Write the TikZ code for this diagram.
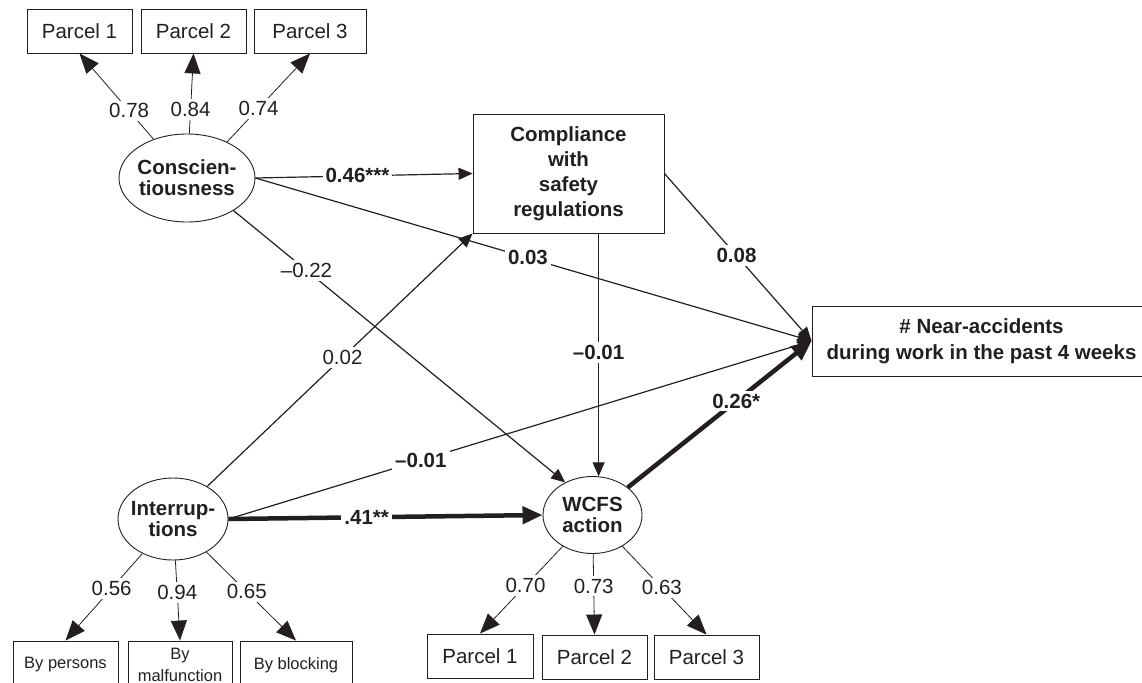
\documentclass[tikz,border=0pt]{standalone}
\usepackage{fontspec}
\setmainfont{Liberation Sans}
\usetikzlibrary{arrows.meta,shapes.geometric}
\definecolor{ink}{HTML}{231F20}
\newcommand\fnorm{\fontsize{20.5}{25}\selectfont}
\newcommand\fell{\fontsize{20.5}{21}\selectfont\bfseries}
\newcommand\fsmall{\fontsize{16.5}{22}\selectfont}
\begin{document}
\begin{tikzpicture}[x=1pt,y=-1pt,
  box/.style={draw=ink, line width=0.9pt, inner sep=0pt, text=ink, font=\fnorm, align=center},
  latent/.style={ellipse, draw=ink, line width=0.9pt, inner sep=-10pt, text=ink, font=\fell, align=center},
  meas/.style={draw=ink, line width=0.8pt, -{Triangle[length=20pt,width=16pt]}},
  reg/.style={draw=ink, line width=1.2pt, -{Triangle[length=14pt,width=12pt]}},
  strong/.style={draw=ink, line width=4.5pt, -{Triangle[length=20pt,width=17pt]}},
  lbl/.style={fill=white, inner sep=3pt, text=ink, font=\fnorm},
  blbl/.style={lbl, font=\fnorm\bfseries}]
\useasboundingbox (0,0) rectangle (1142,682);
\clip (0,0) rectangle (1142,682);

% top indicators
\node[box, minimum width=105pt, minimum height=44pt] (tp1) at (79.5,31) {Parcel 1};
\node[box, minimum width=105pt, minimum height=44pt] (tp2) at (193.5,31) {Parcel 2};
\node[box, minimum width=112pt, minimum height=44pt] (tp3) at (310,31) {Parcel 3};

% latent variables
\node[latent, minimum width=136pt, minimum height=88pt] (consc) at (187,178) {Conscien-\\tiousness};
\node[latent, minimum width=110pt, minimum height=82pt] (intr) at (173,519) {Interrup-\\tions};
\node[latent, minimum width=99pt, minimum height=77pt] (wcfs) at (592.5,515) {WCFS\\action};

% observed variables
\node[box, font=\fnorm\bfseries, minimum width=191pt, minimum height=119pt] (comp) at (568.5,173.5) {Compliance\\with\\safety\\regulations};
\node[box, font=\fontsize{20.5}{26}\selectfont\bfseries, minimum width=339pt, minimum height=70pt] (near) at (981.5,341) {\# Near-accidents\\during work in the past 4 weeks};

% bottom-left indicators
\node[box, font=\fsmall, minimum width=105pt, minimum height=48pt] (bp) at (65.5,665) {By persons};
\node[box, font=\fsmall, minimum width=104pt, minimum height=48pt] (bm) at (180,665) {By\\malfunction};
\node[box, font=\fsmall, minimum width=112pt, minimum height=48pt] (bb) at (296,665) {By blocking};

% bottom-right indicators
\node[box, minimum width=106pt, minimum height=44pt] (bp1) at (480,656) {Parcel 1};
\node[box, minimum width=105pt, minimum height=44pt] (bp2) at (594.5,657) {Parcel 2};
\node[box, minimum width=105pt, minimum height=44pt] (bp3) at (706.5,657) {Parcel 3};

% measurement paths
\draw[meas] (consc) -- (tp1.south) node[lbl,pos=0.33]{0.78};
\draw[meas] (consc) -- (tp2.south) node[lbl,pos=0.30]{0.84};
\draw[meas] (consc.42) -- (tp3.south) node[lbl,pos=0.38]{0.74};
\draw[meas] (intr) -- (bp.north) node[lbl,pos=0.4]{0.56};
\draw[meas] (intr) -- (bm.north) node[lbl,pos=0.4]{0.94};
\draw[meas] (intr) -- (bb.north) node[lbl,pos=0.45]{0.65};
\draw[meas] (wcfs) -- (bp1.north) node[lbl,pos=0.45]{0.70};
\draw[meas] (wcfs) -- (bp2.north) node[lbl,pos=0.4]{0.73};
\draw[meas] (wcfs) -- (bp3.north) node[lbl,pos=0.47]{0.63};

% structural paths
\draw[reg] (consc.east) -- (comp.west) node[blbl,pos=0.47]{0.46***};
\draw[reg] (consc.east) -- (near.west) node[blbl,pos=0.49]{0.03};
\draw[reg] (consc.-35) -- (wcfs.130) node[lbl,pos=0.22]{–0.22};
\draw[reg] (comp.south -| wcfs.81) -- (wcfs.81) node[blbl,pos=0.49]{–0.01};
\draw[reg] (comp.east) -- (near.west) node[blbl,pos=0.49]{0.08};
\draw[reg] (intr) -- (comp.south west) node[lbl,pos=0.51]{0.02};
\draw[reg] (intr.east) -- (near.west) node[blbl,pos=0.33]{–0.01};
\draw[strong] (intr.east) -- (wcfs.west) node[blbl,pos=0.44]{.41**};
\draw[strong] (wcfs.38) -- (near.west) node[blbl,pos=0.59]{0.26*};
\end{tikzpicture}
\end{document}
